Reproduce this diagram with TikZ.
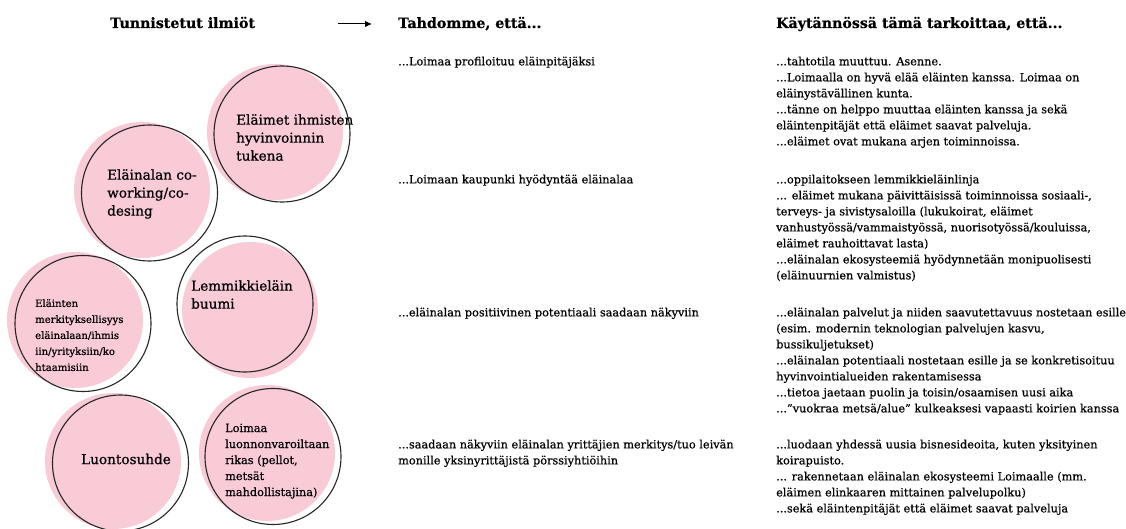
\documentclass[tikz,border=0pt]{standalone}
\usepackage{fontspec}
\setmainfont{DejaVu Serif}[FakeBold=0.6]
\usepackage{xcolor}
\usetikzlibrary{arrows.meta, positioning}
\definecolor{bubblepink}{HTML}{F8CBD6}

\begin{document}
\begin{tikzpicture}[
    x=1pt, y=-1pt,
    head/.style={font=\bfseries\fontsize{14.2}{16}\selectfont, anchor=base west, inner sep=0pt},
    body/.style={font=\fontsize{11.3}{16}\selectfont, align=left, anchor=north west, inner sep=0pt},
    blob/.style={circle, fill=bubblepink, minimum size=136pt, inner sep=0pt},
    ring/.style={circle, draw=black!85, line width=1.1pt, minimum size=136pt, inner sep=0pt},
    bigtext/.style={font=\fontsize{13.6}{18}\selectfont, align=left, anchor=north west, inner sep=0pt},
    smalltext/.style={font=\fontsize{10.1}{16}\selectfont, align=left, anchor=north west, inner sep=0pt}
]
\useasboundingbox (0,0) rectangle (1126,529);

% Headings
\node[head] (ilmiot) at (110,28) {Tunnistetut ilmiöt};
\node[head] (tahdomme) at (398,28) {Tahdomme, että...};
\node[head] (kaytannossa) at (776,28) {Käytännössä tämä tarkoittaa, että...};
\coordinate (arrS) at (338,24);
\coordinate (arrE) at (372,24);
\draw[-{Latex[length=7pt,width=6.5pt]}, line width=1pt] (arrS) -- (arrE);

% Bubbles
\node[blob] (b1) at (275,132) {};
\node[ring] (r1) at (282,134) {};
\node[blob] (b2) at (142,190) {};
\node[ring] (r2) at (149.5,193) {};
\node[blob] (b3) at (75,320) {};
\node[ring] (r3) at (83,323.5) {};
\node[blob] (b4) at (250,310) {};
\node[ring] (r4) at (245,304) {};
\node[blob] (b5) at (113,461) {};
\node[ring] (r5) at (120.5,463) {};
\node[blob] (b6) at (267,453) {};
\node[ring] (r6) at (273,456.5) {};

\node[bigtext] (t1) at (236,114) {Eläimet ihmisten\\hyvinvoinnin\\tukena};
\node[bigtext] (t2) at (107,169) {Eläinalan co-\\working/co-\\desing};
\node[smalltext] (t3) at (35,299) {Eläinten\\merkityksellisyys\\eläinalaan/ihmis\\iin/yrityksiin/ko\\htaamisiin};
\node[bigtext] (t4) at (191,280) {Lemmikkieläin\\buumi};
\node[bigtext, anchor=west] (t5) at (81,459) {Luontosuhde};
\node[body] (t6) at (225,423.5) {Loimaa\\luonnonvaroiltaan\\rikas (pellot,\\metsät\\mahdollistajina)};

% Column two
\node[body] (w1) at (398,56.5) {...Loimaa profiloituu eläinpitäjäksi};
\node[body] (w2) at (398,174.5) {...Loimaan kaupunki hyödyntää eläinalaa};
\node[body] (w3) at (398,307.5) {...eläinalan positiivinen potentiaali saadaan näkyviin};
\node[body] (w4) at (398,439.5) {...saadaan näkyviin eläinalan yrittäjien merkitys/tuo leivän\\monille yksinyrittäjistä pörssiyhtiöihin};

% Column three
\node[body] (k1) at (776,56.5) {...tahtotila muuttuu. Asenne.\\
...Loimaalla on hyvä elää eläinten kanssa. Loimaa on\\
eläinystävällinen kunta.\\
...tänne on helppo muuttaa eläinten kanssa ja sekä\\
eläintenpitäjät että eläimet saavat palveluja.\\
...eläimet ovat mukana arjen toiminnoissa.};
\node[body] (k2) at (776,174.5) {...oppilaitokseen lemmikkieläinlinja\\
... eläimet mukana päivittäisissä toiminnoissa sosiaali-,\\
terveys- ja sivistysaloilla (lukukoirat, eläimet\\
vanhustyössä/vammaistyössä, nuorisotyössä/kouluissa,\\
eläimet rauhoittavat lasta)\\
...eläinalan ekosysteemiä hyödynnetään monipuolisesti\\
(eläinuurnien valmistus)};
\node[body] (k3) at (776,307.5) {...eläinalan palvelut ja niiden saavutettavuus nostetaan esille\\
(esim. modernin teknologian palvelujen kasvu,\\
bussikuljetukset)\\
...eläinalan potentiaali nostetaan esille ja se konkretisoituu\\
hyvinvointialueiden rakentamisessa\\
...tietoa jaetaan puolin ja toisin/osaamisen uusi aika\\
...”vuokraa metsä/alue” kulkeaksesi vapaasti koirien kanssa};
\node[body] (k4) at (776,439.5) {...luodaan yhdessä uusia bisnesideoita, kuten yksityinen\\
koirapuisto.\\
... rakennetaan eläinalan ekosysteemi Loimaalle (mm.\\
eläimen elinkaaren mittainen palvelupolku)\\
...sekä eläintenpitäjät että eläimet saavat palveluja};

\end{tikzpicture}
\end{document}
